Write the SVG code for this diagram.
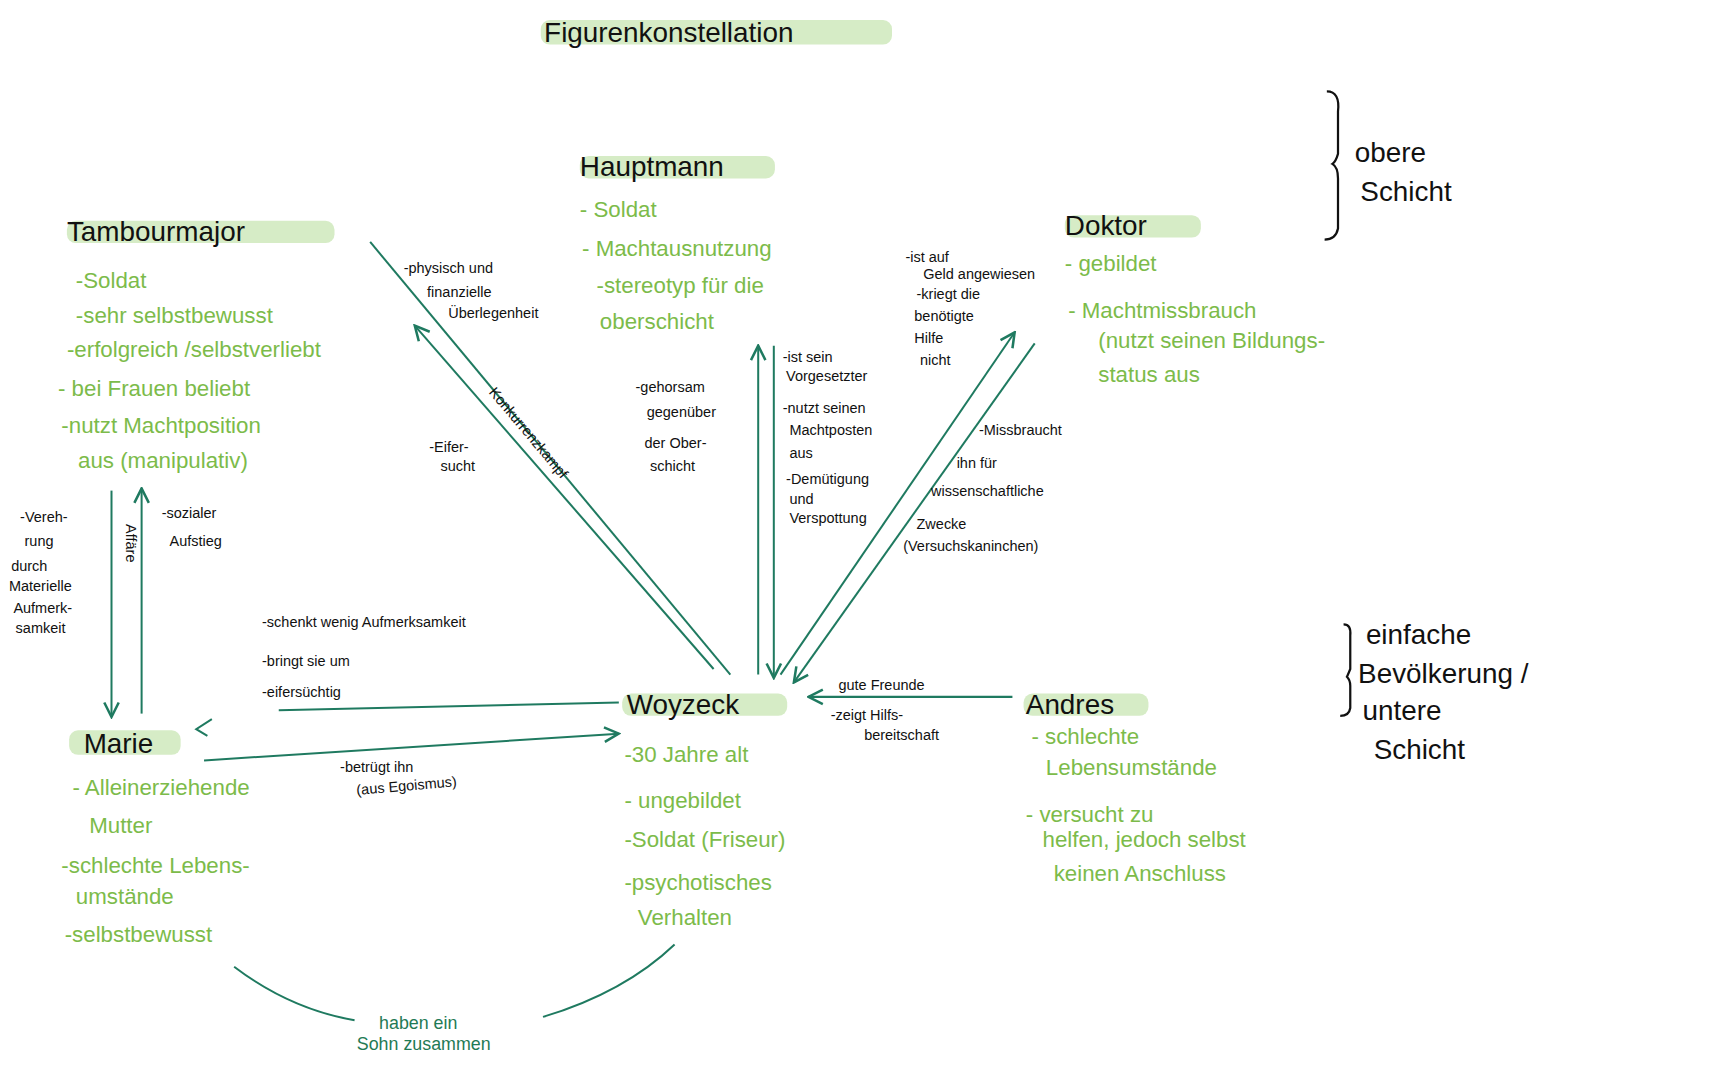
<svg xmlns="http://www.w3.org/2000/svg" width="1728" height="1080" viewBox="0 0 1728 1080">
<style>
text{font-family:"Liberation Sans",Arial,sans-serif}
.h{font-size:25px;fill:#111}
.g{font-size:20px;fill:#7cbb4a}
.s{font-size:13px;fill:#111}
.c{font-size:16px;fill:#1f7a55}
.hl{fill:#d6ecc6}
.ln{stroke:#1f7a60;stroke-width:1.8;fill:none}
.br{stroke:#111;stroke-width:2;fill:none}
</style>
<defs><marker id="a" viewBox="0 0 10 10" refX="9" refY="5" markerWidth="9" markerHeight="9" orient="auto-start-reverse"><path d="M1,1 L9,5 L1,9" fill="none" stroke="#1f7a60" stroke-width="1.4"/></marker></defs>
<rect width="1728" height="1080" fill="#fff"/>
<g transform="scale(1.115)">
<g id="title"><rect class="hl" x="485" y="18" width="315" height="22" rx="8"/><text class="h" x="488" y="38">Figurenkonstellation</text></g>
<g id="hauptmann"><rect class="hl" x="520" y="140" width="175" height="20" rx="8"/><text class="h" x="520" y="158">Hauptmann</text>
<text class="g" x="520" y="195">- Soldat</text><text class="g" x="522" y="230">- Machtausnutzung</text><text class="g" x="535" y="263">-stereotyp für die</text><text class="g" x="538" y="295">oberschicht</text></g>
<g id="tambourmajor"><rect class="hl" x="60" y="198" width="240" height="20" rx="8"/><text class="h" x="60" y="216">Tambourmajor</text>
<text class="g" x="68" y="258">-Soldat</text><text class="g" x="68" y="290">-sehr selbstbewusst</text><text class="g" x="60" y="320">-erfolgreich /selbstverliebt</text><text class="g" x="52" y="355">- bei Frauen beliebt</text><text class="g" x="55" y="388">-nutzt Machtposition</text><text class="g" x="70" y="420">aus   (manipulativ)</text></g>
<g id="doktor"><rect class="hl" x="955" y="193" width="122" height="20" rx="8"/><text class="h" x="955" y="211">Doktor</text>
<text class="g" x="955" y="243">- gebildet</text><text class="g" x="958" y="285">- Machtmissbrauch</text><text class="g" x="985" y="312">(nutzt seinen Bildungs-</text><text class="g" x="985" y="343">status  aus</text></g>
<g id="obere"><path class="br" d="M1190,82 Q1202,82 1200,100 L1200,138 Q1198,145 1195,147 Q1200,150 1200,160 L1200,205 Q1198,215 1188,215"/><text class="h" x="1215" y="145">obere</text><text class="h" x="1220" y="180">Schicht</text></g>
<g id="woyzeck"><rect class="hl" x="558" y="622" width="148" height="20" rx="8"/><text class="h" x="562" y="640">Woyzeck</text>
<text class="g" x="560" y="683">-30 Jahre alt</text><text class="g" x="560" y="725">- ungebildet</text><text class="g" x="560" y="760">-Soldat (Friseur)</text><text class="g" x="560" y="798">-psychotisches</text><text class="g" x="572" y="830">Verhalten</text></g>
<g id="andres"><rect class="hl" x="918" y="622" width="112" height="20" rx="8"/><text class="h" x="920" y="640">Andres</text>
<text class="g" x="925" y="667">- schlechte</text><text class="g" x="938" y="695">Lebensumstände</text><text class="g" x="920" y="737">- versucht zu</text><text class="g" x="935" y="760">helfen, jedoch selbst</text><text class="g" x="945" y="790">keinen Anschluss</text></g>
<g id="untere"><path class="br" d="M1205,560 Q1212,560 1211,570 L1211,600 Q1209,605 1208,607 Q1211,610 1211,615 L1211,635 Q1210,642 1202,642"/><text class="h" x="1225" y="578">einfache</text><text class="h" x="1218" y="613">Bevölkerung /</text><text class="h" x="1222" y="646">untere</text><text class="h" x="1232" y="681">Schicht</text></g>
<g id="marie"><rect class="hl" x="62" y="655" width="100" height="22" rx="8"/><text class="h" x="75" y="675">Marie</text>
<text class="g" x="65" y="713">- Alleinerziehende</text><text class="g" x="80" y="747">Mutter</text><text class="g" x="55" y="783">-schlechte Lebens-</text><text class="g" x="68" y="811">umstände</text><text class="g" x="58" y="845">-selbstbewusst</text></g>
<g id="connectors">
<path class="ln" d="M332,217 L655,605"/>
<path class="ln" d="M640,600 L372,292" marker-end="url(#a)"/>
<path class="ln" d="M680,605 L680,310" marker-end="url(#a)"/>
<path class="ln" d="M694,310 L694,608" marker-end="url(#a)"/>
<path class="ln" d="M700,605 L910,298" marker-end="url(#a)"/>
<path class="ln" d="M928,308 L712,612" marker-end="url(#a)"/>
<path class="ln" d="M908,625 L725,625" marker-end="url(#a)"/>
<path class="ln" d="M250,637 L555,630"/>
<path class="ln" d="M190,645 L176,654 L186,660"/>
<path class="ln" d="M183,682 L555,658" marker-end="url(#a)"/>
<path class="ln" d="M100,440 L100,643" marker-end="url(#a)"/>
<path class="ln" d="M127,640 L127,438" marker-end="url(#a)"/>
<path class="ln" d="M210,867 Q260,905 318,915"/>
<path class="ln" d="M487,912 Q560,890 605,847"/>
</g>
<g id="labels">
<text class="s" x="362" y="245">-physisch und</text><text class="s" x="383" y="266">finanzielle</text><text class="s" x="402" y="285">Überlegenheit</text>
<text class="s" transform="translate(438,352) rotate(50)">Konkurrenzkampf</text>
<text class="s" x="385" y="405">-Eifer-</text><text class="s" x="395" y="422">sucht</text>
<text class="s" x="18" y="468">-Vereh-</text><text class="s" x="22" y="490">rung</text><text class="s" x="10" y="512">durch</text><text class="s" x="8" y="530">Materielle</text><text class="s" x="12" y="550">Aufmerk-</text><text class="s" x="14" y="568">samkeit</text>
<text class="s" transform="translate(113,470) rotate(90)">Affäre</text>
<text class="s" x="145" y="465">-sozialer</text><text class="s" x="152" y="490">Aufstieg</text>
<text class="s" x="570" y="352">-gehorsam</text><text class="s" x="580" y="374">gegenüber</text><text class="s" x="578" y="402">der Ober-</text><text class="s" x="583" y="422">schicht</text>
<text class="s" x="702" y="325">-ist sein</text><text class="s" x="705" y="342">Vorgesetzter</text><text class="s" x="702" y="370">-nutzt seinen</text><text class="s" x="708" y="390">Machtposten</text><text class="s" x="708" y="411">aus</text><text class="s" x="705" y="434">-Demütigung</text><text class="s" x="708" y="452">und</text><text class="s" x="708" y="469">Verspottung</text>
<text class="s" x="812" y="235">-ist auf</text><text class="s" x="828" y="250">Geld angewiesen</text><text class="s" x="822" y="268">-kriegt die</text><text class="s" x="820" y="288">benötigte</text><text class="s" x="820" y="308">Hilfe</text><text class="s" x="825" y="327">nicht</text>
<text class="s" x="878" y="390">-Missbraucht</text><text class="s" x="858" y="420">ihn für</text><text class="s" x="835" y="445">wissenschaftliche</text><text class="s" x="822" y="474">Zwecke</text><text class="s" x="810" y="494">(Versuchskaninchen)</text>
<text class="s" x="235" y="562">-schenkt wenig Aufmerksamkeit</text><text class="s" x="235" y="597">-bringt sie um</text><text class="s" x="235" y="625">-eifersüchtig</text>
<text class="s" x="752" y="619">gute Freunde</text><text class="s" x="745" y="646">-zeigt Hilfs-</text><text class="s" x="775" y="664">bereitschaft</text>
<text class="s" x="305" y="692">-betrügt ihn</text><text class="s" transform="translate(320,713) rotate(-5)">(aus Egoismus)</text>
<text class="c" x="340" y="923">haben ein</text><text class="c" x="320" y="942">Sohn zusammen</text>
</g>
</g>
</svg>
